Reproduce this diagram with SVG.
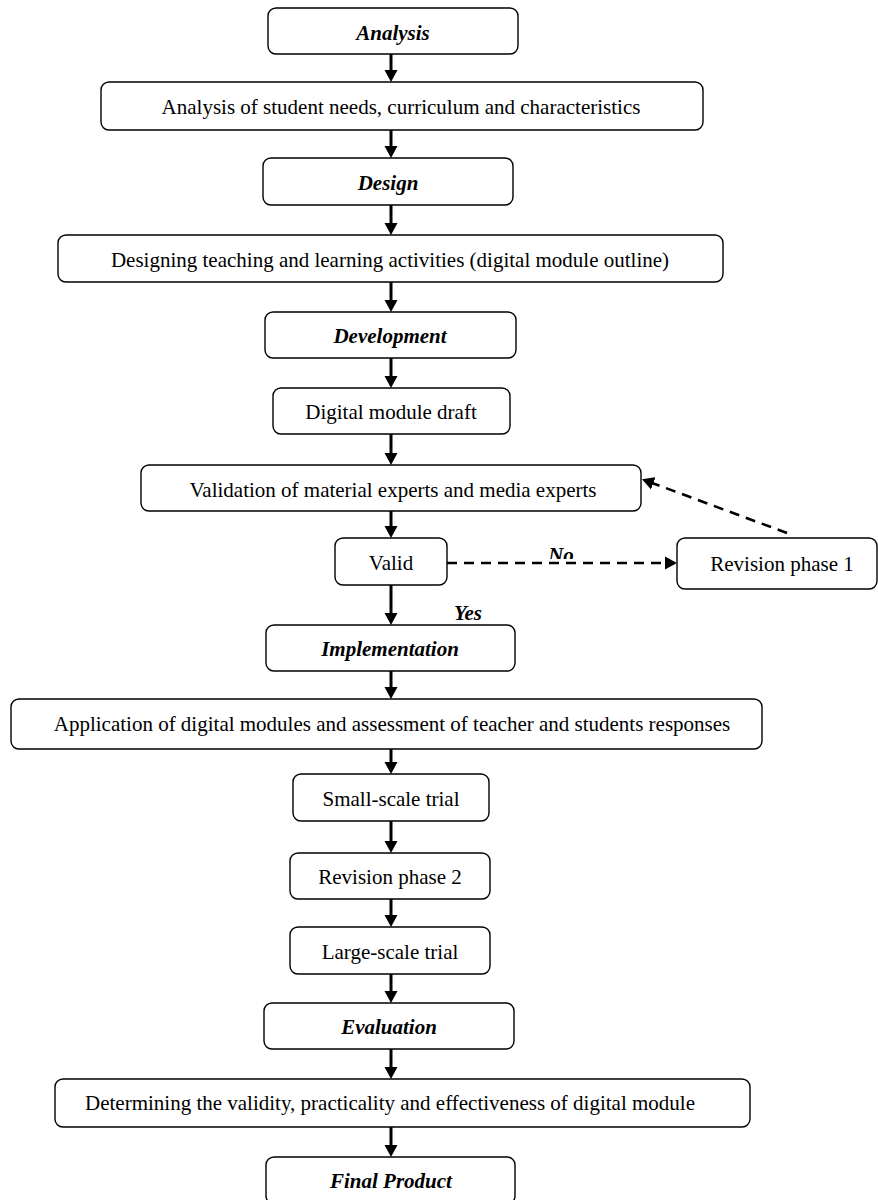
<svg xmlns="http://www.w3.org/2000/svg" width="878" height="1200" viewBox="0 0 878 1200">
<style>
.box{fill:#fff;stroke:#000;stroke-width:1.4}
.t{font-family:"Liberation Serif","Times New Roman",serif;font-size:21px;fill:#000;text-anchor:middle}
.h{font-weight:bold;font-style:italic}
.c{fill:none;stroke:#000;stroke-width:3}
.d{fill:none;stroke:#000;stroke-width:2.6;stroke-dasharray:10 7}
</style>
<defs>
<marker id="ah" markerUnits="userSpaceOnUse" markerWidth="14" markerHeight="14" refX="4" refY="7" orient="auto">
<path d="M0,0.5 L12,7 L0,13.5 z" fill="#000"/>
</marker>
<clipPath id="noclip"><rect x="530" y="530" width="70" height="29"/></clipPath>
</defs>
<g id="connectors">
<line class="c" x1="391" y1="54" x2="391" y2="74" marker-end="url(#ah)"/>
<line class="c" x1="391" y1="130" x2="391" y2="150" marker-end="url(#ah)"/>
<line class="c" x1="391" y1="205" x2="391" y2="227" marker-end="url(#ah)"/>
<line class="c" x1="391" y1="282" x2="391" y2="304" marker-end="url(#ah)"/>
<line class="c" x1="391" y1="358" x2="391" y2="380" marker-end="url(#ah)"/>
<line class="c" x1="391" y1="434" x2="391" y2="457" marker-end="url(#ah)"/>
<line class="c" x1="391" y1="511" x2="391" y2="530" marker-end="url(#ah)"/>
<line class="c" x1="391" y1="585" x2="391" y2="617" marker-end="url(#ah)"/>
<line class="c" x1="391" y1="671" x2="391" y2="691" marker-end="url(#ah)"/>
<line class="c" x1="391" y1="749" x2="391" y2="766" marker-end="url(#ah)"/>
<line class="c" x1="391" y1="821" x2="391" y2="845" marker-end="url(#ah)"/>
<line class="c" x1="391" y1="899" x2="391" y2="919" marker-end="url(#ah)"/>
<line class="c" x1="391" y1="974" x2="391" y2="995" marker-end="url(#ah)"/>
<line class="c" x1="391" y1="1049" x2="391" y2="1071" marker-end="url(#ah)"/>
<line class="c" x1="391" y1="1127" x2="391" y2="1149" marker-end="url(#ah)"/>
<line class="d" x1="447" y1="563" x2="669" y2="563" marker-end="url(#ah)"/>
<line class="d" x1="787" y1="533" x2="649.5" y2="482" marker-end="url(#ah)"/>
<text class="t h" x="561" y="562" clip-path="url(#noclip)">No</text>
<text class="t h" x="468" y="620">Yes</text>
</g>
<g id="n1"><rect class="box" x="268" y="8" width="250" height="46" rx="8"/><text class="t h" x="393" y="40">Analysis</text></g>
<g id="n2"><rect class="box" x="101" y="82" width="602" height="48" rx="8"/><text class="t" x="401" y="114">Analysis of student needs, curriculum and characteristics</text></g>
<g id="n3"><rect class="box" x="263" y="158" width="250" height="47" rx="8"/><text class="t h" x="388" y="190">Design</text></g>
<g id="n4"><rect class="box" x="58" y="235" width="665" height="47" rx="8"/><text class="t" x="390" y="267">Designing teaching and learning activities (digital module outline)</text></g>
<g id="n5"><rect class="box" x="265" y="312" width="251" height="46" rx="8"/><text class="t h" x="390" y="343">Development</text></g>
<g id="n6"><rect class="box" x="273" y="388" width="237" height="46" rx="8"/><text class="t" x="391" y="419">Digital module draft</text></g>
<g id="n7"><rect class="box" x="141" y="465" width="500" height="46" rx="8"/><text class="t" x="393" y="497">Validation of material experts and media experts</text></g>
<g id="n8"><rect class="box" x="335" y="538" width="112" height="47" rx="8"/><text class="t" x="391" y="570">Valid</text></g>
<g id="n9"><rect class="box" x="677" y="538" width="200" height="51" rx="8"/><text class="t" x="782" y="571">Revision phase 1</text></g>
<g id="n10"><rect class="box" x="266" y="625" width="249" height="46" rx="8"/><text class="t h" x="390" y="656">Implementation</text></g>
<g id="n11"><rect class="box" x="11" y="699" width="751" height="50" rx="8"/><text class="t" x="392" y="731">Application of digital modules and assessment of teacher and students responses</text></g>
<g id="n12"><rect class="box" x="293" y="774" width="196" height="47" rx="8"/><text class="t" x="391" y="806">Small-scale trial</text></g>
<g id="n13"><rect class="box" x="290" y="853" width="200" height="46" rx="8"/><text class="t" x="390" y="884">Revision phase 2</text></g>
<g id="n14"><rect class="box" x="290" y="927" width="200" height="47" rx="8"/><text class="t" x="390" y="959">Large-scale trial</text></g>
<g id="n15"><rect class="box" x="264" y="1003" width="250" height="46" rx="8"/><text class="t h" x="389" y="1034">Evaluation</text></g>
<g id="n16"><rect class="box" x="55" y="1079" width="695" height="48" rx="8"/><text class="t" x="390" y="1110">Determining the validity, practicality and effectiveness of digital module</text></g>
<g id="n17"><rect class="box" x="266" y="1157" width="249" height="47" rx="8"/><text class="t h" x="391" y="1188">Final Product</text></g>
</svg>
